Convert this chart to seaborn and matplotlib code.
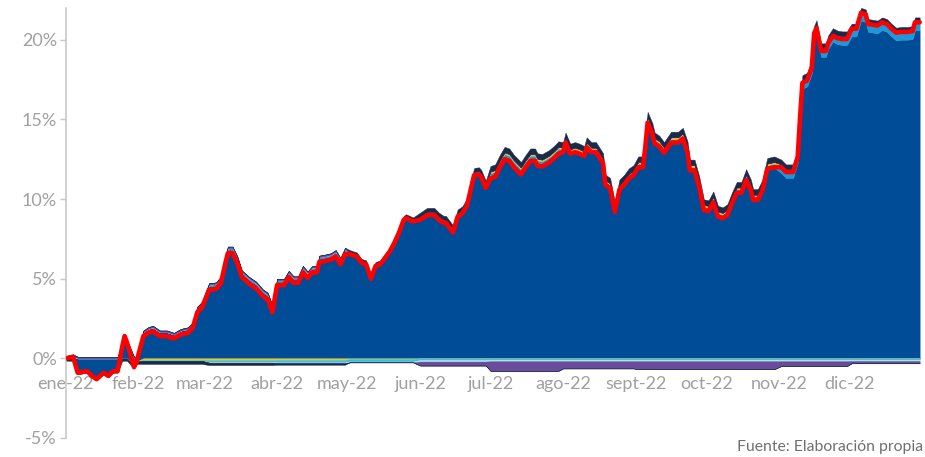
import matplotlib
matplotlib.use("Agg", force=True)
import matplotlib.pyplot as plt
import numpy as np
import pandas as pd
import seaborn as sns

# days since 2022-01-01 and total return (%)
DAYS = [0, 3, 5, 9, 11, 13, 16, 18, 20, 22, 24, 25, 26, 29, 30, 33, 35, 37, 40, 43,
        46, 49, 52, 54, 56, 58, 61, 64, 66, 68, 69, 71, 73, 75, 78, 81, 84, 86, 88, 90,
        93, 95, 97, 99, 101, 103, 105, 107, 108, 110, 113, 115, 117, 119, 121, 124, 126, 128, 130, 132,
        134, 136, 138, 140, 142, 144, 145, 148, 151, 154, 157, 159, 161, 162, 165, 167, 169, 171, 174, 176,
        177, 179, 181, 183, 185, 187, 189, 191, 194, 196, 198, 200, 201, 203, 206, 208, 210, 212, 213, 215,
        217, 219, 221, 222, 224, 226, 229, 230, 232, 234, 236, 238, 240, 242, 244, 246, 247, 248, 250, 251,
        253, 255, 258, 261, 263, 265, 266, 268, 270, 272, 274, 276, 278, 280, 282, 284, 286, 288, 290, 292,
        293, 295, 297, 299, 302, 305, 307, 310, 312, 313, 314, 316, 318, 319, 320, 322, 324, 325, 327, 329,
        331, 333, 335, 337, 339, 341, 342, 344, 346, 348, 350, 352, 354, 356, 359, 361, 362, 364]
TOTAL = [0.0, 0.1, -0.9, -0.8, -1.1, -1.3, -0.9, -1.1, -0.8, -0.8, 0.75, 1.4, 1.0, -0.55, -0.25, 1.4, 1.6, 1.7, 1.4, 1.4,
         1.25, 1.5, 1.6, 1.9, 2.9, 3.2, 4.3, 4.35, 4.7, 6.0, 6.6, 6.6, 6.0, 5.1, 4.7, 4.4, 3.9, 3.7, 2.9, 4.6,
         4.6, 5.1, 4.75, 4.75, 5.4, 5.05, 5.4, 5.4, 6.05, 6.1, 6.2, 6.4, 5.9, 6.55, 6.55, 6.4, 6.0, 5.9, 5.0, 5.8,
         5.9, 6.3, 6.7, 7.25, 7.9, 8.7, 8.8, 8.6, 8.7, 9.0, 9.0, 8.7, 8.5, 8.5, 7.9, 8.9, 9.1, 9.6, 11.5, 11.55,
         11.4, 10.7, 11.3, 11.4, 12.0, 12.5, 12.4, 12.0, 11.55, 12.0, 12.4, 12.4, 12.1, 12.05, 12.3, 12.55, 12.85, 12.95, 13.55, 12.85,
         12.95, 12.85, 12.7, 13.25, 12.95, 12.95, 12.25, 10.9, 10.7, 9.2, 10.6, 10.9, 11.3, 11.5, 12.0, 12.0, 13.25, 14.8, 14.1, 13.5,
         13.3, 12.9, 13.55, 13.55, 13.8, 12.95, 11.8, 11.8, 10.75, 9.3, 9.25, 9.8, 8.9, 8.8, 9.0, 9.75, 10.4, 10.4, 11.2, 10.55,
         9.95, 9.95, 10.55, 11.9, 12.0, 12.0, 11.7, 11.7, 12.65, 15.1, 17.3, 17.45, 18.25, 20.4, 20.75, 19.3, 19.3, 19.8, 20.25, 20.1,
         20.05, 20.05, 20.7, 20.7, 21.7, 21.6, 21.0, 20.95, 20.9, 21.1, 21.0, 20.7, 20.45, 20.5, 20.5, 20.55, 21.1, 21.1]

# smaller contributions, one estimate per month (ene..dic), in %
LIGHT_BLUE = [0.0, 0.0, 0.1, 0.1, 0.1, 0.1, 0.15, 0.2, 0.25, 0.25, 0.45, 0.5]
YELLOW = [0.0, -0.1, -0.12, -0.1, -0.05, 0.05, 0.1, 0.1, 0.1, 0.1, 0.1, 0.1]
PURPLE = [0.1, 0.1, 0.1, 0.1, 0.05, -0.25, -0.6, -0.45, -0.5, -0.5, -0.3, -0.15]
NAVY = [-0.15, -0.2, -0.15, -0.1, 0.15, 0.25, 0.35, 0.35, 0.35, 0.35, 0.3, 0.2]
CYAN = [0.0, -0.05, -0.1, -0.15, -0.15, -0.1, -0.08, -0.08, -0.08, -0.08, -0.08, -0.08]
PALE = [0.0, 0.0, -0.05, -0.05, -0.05, -0.1, -0.1, -0.1, -0.1, -0.1, -0.1, -0.08]

MONTH_LABELS = ["ene-22", "feb-22", "mar-22", "abr-22", "may-22", "jun-22",
                "jul-22", "ago-22", "sept-22", "oct-22", "nov-22", "dic-22"]

GREY = "#a0a0a0"


def main() -> None:
    sns.set_theme(style="white")
    plt.rcParams["font.family"] = ["Lato", "DejaVu Sans"]

    start = pd.Timestamp("2022-01-01")
    dates = start + pd.to_timedelta(DAYS, unit="D")
    month_idx = dates.month.to_numpy() - 1
    total = np.array(TOTAL, dtype=float)

    small = {
        "light_blue": (np.array(LIGHT_BLUE)[month_idx], "#1f98d8"),
        "yellow": (np.array(YELLOW)[month_idx], "#f3c31a"),
        "cyan": (np.array(CYAN)[month_idx], "#33c3e6"),
        "pale": (np.array(PALE)[month_idx], "#b9dcf1"),
        "purple": (np.array(PURPLE)[month_idx], "#6a4c9c"),
        "navy": (np.array(NAVY)[month_idx], "#1b2a48"),
    }
    main_part = total - sum(v for v, _ in small.values())
    layers = [("main", main_part, "#004c97")] + [(k, v, c) for k, (v, c) in small.items()]

    fig = plt.figure(figsize=(9.25, 4.57), dpi=100)
    ax = fig.add_axes([66 / 925, 1 - 438 / 457, 856 / 925, 430 / 457])

    pos = np.zeros_like(total)
    neg = np.zeros_like(total)
    for name, vals, color in layers:
        up = np.clip(vals, 0, None)
        down = np.clip(vals, None, 0)
        ax.fill_between(dates, pos, pos + up, color=color, lw=0.3, zorder=2)
        ax.fill_between(dates, neg, neg + down, color=color, lw=0.3, zorder=2)
        pos += up
        neg += down

    sns.lineplot(x=dates, y=total, color="#ff0000", lw=3.3, ax=ax, zorder=4)

    ax.set_xlim(start, start + pd.Timedelta(days=365))
    ax.set_ylim(-5, 22)
    ax.set_yticks([-5, 0, 5, 10, 15, 20])
    ax.set_yticklabels([f"{v}%" for v in [-5, 0, 5, 10, 15, 20]])
    month_starts = pd.date_range("2022-01-01", periods=12, freq="MS")
    ax.set_xticks(month_starts)
    ax.set_xticklabels(MONTH_LABELS)
    ax.set_xlabel("")
    ax.set_ylabel("")

    for side in ["top", "right"]:
        ax.spines[side].set_visible(False)
    ax.spines["bottom"].set_position(("data", 0))
    ax.spines["bottom"].set_visible(False)
    ax.spines["left"].set_color("#c8c8c8")
    ax.spines["left"].set_linewidth(1.2)
    ax.tick_params(axis="y", left=True, length=4.5, width=1.0, color="#c8c8c8",
                   labelsize=13, labelcolor=GREY, pad=2)
    ax.tick_params(axis="x", bottom=False, length=0, labelsize=13, labelcolor=GREY, pad=13)
    for lbl in ax.get_xticklabels():
        lbl.set_zorder(5)

    fig.text(923 / 925, 1 - 447 / 457, "Fuente: Elaboración propia", fontsize=11.3,
             color="#6f6f6f", ha="right", va="center")

    fig.savefig("out.png", dpi=100)
    plt.close(fig)


if __name__ == "__main__":
    main()
